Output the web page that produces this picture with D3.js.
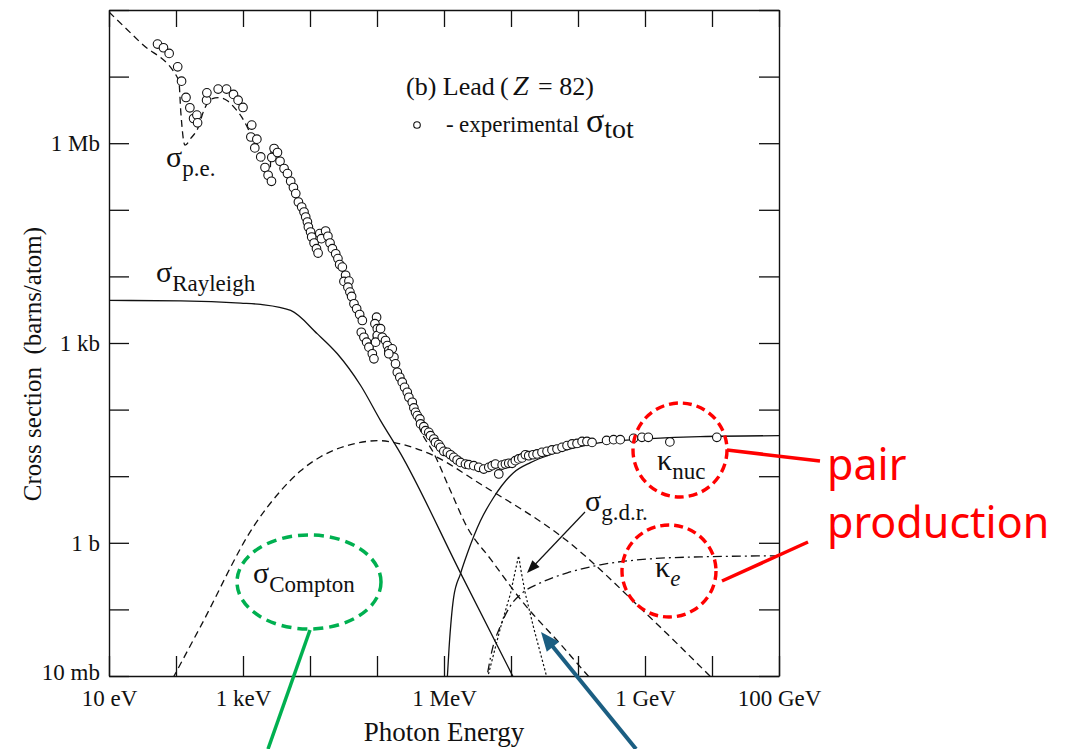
<!DOCTYPE html>
<html>
<head>
<meta charset="utf-8">
<script src="https://cdn.jsdelivr.net/npm/d3@7"></script>
<style>
  body { margin: 0; background: #fff; }
  svg text { font-family: "Liberation Serif", "Times New Roman", serif; fill: #111; }
</style>
</head>
<body>
<svg id="chart" width="1081" height="749"></svg>
<script>
// photon energy in eV, cross section in barns/atom (lead)
const xTicks = [1e1, 1e2, 1e3, 1e4, 1e5, 1e6, 1e7, 1e8, 1e9, 1e10, 1e11]
const yTicks = [1e-2, 1e-1, 1e0, 1e1, 1e2, 1e3, 1e4, 1e5, 1e6, 1e7, 1e8]
const xLabelValues = [1e1, 1e3, 1e6, 1e9, 1e11]
const xLabelText = ['10 eV', '1 keV', '1 MeV', '1 GeV', '100 GeV']
const yLabelValues = [1e-2, 1e0, 1e3, 1e6]
const yLabelText = ['10 mb', '1 b', '1 kb', '1 Mb']

const experimental = [
  [53, 3.08e7], [65, 2.71e7], [79, 2.23e7], [106, 1.40e7], [121, 8.55e6], [141, 4.86e6],
  [161, 3.40e6], [183, 2.35e6], [205, 2.64e6], [210, 2.02e6], [286, 4.43e6], [289, 5.70e6],
  [426, 6.49e6], [568, 6.49e6], [721, 5.40e6], [845, 4.43e6], [1000, 3.44e6], [1350, 1.87e6],
  [1310, 1.24e6], [1610, 1.15e6], [1500, 8.49e5], [1840, 6.22e5], [2130, 4.31e5], [2370, 3.30e5],
  [2660, 2.68e5], [2910, 8.32e5], [2690, 6.10e5], [3270, 7.24e5], [3570, 5.36e5], [4100, 4.17e5],
  [4610, 3.50e5], [5150, 2.68e5], [5660, 2.16e5], [6130, 1.75e5], [6710, 1.31e5], [7520, 1.10e5],
  [8140, 9.27e4], [8630, 7.80e4], [9150, 6.56e4], [9460, 5.51e4], [1.02e4, 4.64e4], [1.06e4, 3.90e4],
  [1.15e4, 3.17e4], [1.25e4, 2.61e4], [1.32e4, 2.24e4], [1.40e4, 4.39e4], [1.48e4, 3.69e4],
  [1.71e4, 4.80e4], [1.85e4, 4.00e4], [1.99e4, 3.17e4], [2.16e4, 2.61e4], [2.42e4, 2.19e4],
  [2.61e4, 1.85e4], [2.77e4, 1.51e4], [3.04e4, 1.38e4], [3.40e4, 1.04e4], [3.21e4, 8.41e3],
  [3.81e4, 8.50e3], [3.68e4, 6.90e3], [3.94e4, 5.81e3], [4.18e4, 5.00e3], [4.53e4, 3.88e3],
  [4.97e4, 3.27e3], [5.51e4, 2.68e3], [6.04e4, 2.18e3], [5.83e4, 1.45e3], [6.38e4, 1.22e3],
  [7.00e4, 1.03e3], [7.57e4, 865], [8.51e4, 689], [9.00e4, 578], [9.86e4, 2.44e3], [9.31e4, 1.95e3],
  [1.01e5, 1.64e3], [1.01e5, 1.30e3], [9.53e4, 1.03e3], [1.13e5, 1.64e3], [1.20e5, 1.22e3],
  [1.34e5, 1.09e3], [1.43e5, 917], [1.50e5, 771], [1.69e5, 818], [1.79e5, 611], [1.50e5, 689],
  [1.89e5, 486], [2.01e5, 364], [2.19e5, 306], [2.38e5, 258], [2.58e5, 216], [2.83e5, 182],
  [2.99e5, 153], [3.36e5, 129], [3.55e5, 106], [3.76e5, 91], [3.99e5, 81.3], [4.36e5, 72.4],
  [4.47e5, 60.9], [5.00e5, 55.5], [5.30e5, 48.3], [5.93e5, 45.6], [6.29e5, 40.6], [7.05e5, 36.2],
  [7.47e5, 32.2], [8.36e5, 29.8], [8.87e5, 27.1], [9.93e5, 23.6], [1.12e6, 22.8], [1.25e6, 21.0],
  [1.40e6, 19.2], [1.57e6, 17.5], [1.76e6, 16.1], [2.09e6, 15.2], [2.34e6, 14.9], [2.78e6, 14.4],
  [3.30e6, 13.6], [3.92e6, 12.8], [4.66e6, 13.6], [5.23e6, 14.4], [5.86e6, 15.2], [6.57e6, 10.8],
  [7.37e6, 14.7], [8.26e6, 15.2], [9.25e6, 15.6], [1.04e7, 15.6], [1.16e7, 17.1], [1.30e7, 18.2],
  [1.46e7, 18.8], [1.64e7, 21.0], [1.84e7, 20.3], [2.13e7, 21.0], [2.45e7, 21.6], [2.90e7, 22.8],
  [3.45e7, 23.6], [4.09e7, 24.8], [4.86e7, 25.6], [5.78e7, 27.1], [6.86e7, 28.8], [8.15e7, 30.5],
  [9.67e7, 31.1], [1.15e8, 33.3], [1.36e8, 33.3], [1.62e8, 32.2], [2.67e8, 34.5], [3.40e8, 35.4],
  [4.27e8, 35.4], [6.75e8, 37.0], [9.00e8, 38.3], [1.12e9, 38.3], [2.35e9, 32.7], [1.18e10, 38.3]
]

const photoelectric = [
  [10, 9.33e7], [30, 3.19e7], [110, 8.85e6], [118, 2.92e6], [136, 9.33e5], [167, 1.19e6],
  [212, 1.68e6], [261, 3.13e6], [331, 4.59e6], [436, 4.83e6], [593, 4.29e6], [755, 3.36e6],
  [959, 2.46e6], [1180, 1.68e6], [1610, 8.41e5], [2190, 4.21e5], [2510, 3.08e5], [2640, 7.85e5],
  [3660, 5.55e5], [5150, 2.78e5], [7260, 1.17e5], [1.02e4, 4.59e4], [1.30e4, 2.38e4],
  [1.37e4, 4.29e4], [2.03e4, 3.03e4], [2.87e4, 1.46e4], [4.05e4, 5.74e3], [5.70e4, 2.03e3],
  [8.59e4, 627], [9.06e4, 2.33e3], [1.13e5, 1.49e3], [1.60e5, 695], [2.25e5, 292], [3.17e5, 115],
  [4.62e5, 45.1], [6.98e5, 22.5], [1.25e6, 6.05], [2.24e6, 1.68], [4.93e6, 0.574], [1.53e7, 0.125],
  [5.45e7, 0.0303], [1.52e8, 0.0093], [2.15e8, 0.0064]
]

const rayleigh = [
  [10, 4.36e3], [118, 4.28e3], [927, 3.97e3], [1840, 3.79e3], [5150, 3.08e3], [1.29e4, 1.37e3],
  [2.56e4, 689], [5.70e4, 230], [1.13e5, 68.4], [2.25e5, 21.8], [1.76e6, 0.354], [1.10e7, 0.0093]
]

const compton = [
  [90, 0.0093], [235, 0.0565], [1460, 1.80], [3660, 6.05], [7260, 12.1], [1.44e4, 19.6],
  [4.05e4, 29.8], [1.06e5, 34.2], [2.25e5, 30.5], [7.05e5, 20.3], [3.50e6, 7.63], [6.86e7, 1.07],
  [1.20e9, 0.0754], [1.0e10, 0.0093]
]

const kappaNuc = [
  [1.09e6, 0.0059], [1.19e6, 0.0264], [1.39e6, 0.149], [1.76e6, 0.342], [2.22e6, 0.684],
  [3.50e6, 2.14], [5.47e6, 4.75], [1.09e7, 11.3], [1.95e7, 16.0], [3.86e7, 21.0], [9.12e7, 26.8],
  [2.15e8, 31.9], [1.20e9, 36.6], [6.65e9, 39.3], [1e11, 40.6]
]

const kappaE = [
  [4.02e6, 0.0059], [5.28e6, 0.0255], [6.95e6, 0.0565], [9.80e6, 0.113], [1.48e7, 0.177],
  [2.74e7, 0.250], [6.92e7, 0.354], [2.15e8, 0.467], [1.20e9, 0.574], [6.65e9, 0.615], [1e11, 0.638]
]

const gdr = [
  [4.02e6, 0.0059], [4.45e6, 0.0093], [6.95e6, 0.0527], [9.80e6, 0.171], [1.16e7, 0.379],
  [1.30e7, 0.638], [1.43e7, 0.354], [1.64e7, 0.171], [2.18e7, 0.0527], [3.45e7, 0.0093], [3.73e7, 0.0059]
]

let svg = d3.select('#chart')

let x = d3.scaleLog().domain([1e1, 1e11]).range([109, 779])
let y = d3.scaleLog().domain([1e-2, 1e8]).range([676, 10])

let decade = v => Math.round(Math.log10(v))
let xName = d => {
  let i = xLabelValues.findIndex(v => decade(v) === decade(d))
  return i < 0 ? '' : xLabelText[i]
}
let yName = d => {
  let i = yLabelValues.findIndex(v => decade(v) === decade(d))
  return i < 0 ? '' : yLabelText[i]
}

let styleAxis = g => {
  g.select('.domain').attr('stroke', '#111').attr('stroke-width', 1.4)
  g.selectAll('.tick line').attr('stroke', '#111').attr('stroke-width', 1.3)
  g.selectAll('.tick text').style('font-size', '23px')
}

svg.append('g')
  .attr('transform', 'translate(0,676)')
  .call(d3.axisBottom(x).tickValues(xTicks).tickSizeInner(-20).tickSizeOuter(0).tickPadding(14).tickFormat(xName))
  .call(styleAxis)

svg.append('g')
  .attr('transform', 'translate(0,10)')
  .call(d3.axisTop(x).tickValues(xTicks).tickSizeInner(-17).tickSizeOuter(0).tickFormat(''))
  .call(styleAxis)

let leftAxis = svg.append('g')
  .attr('transform', 'translate(109,0)')
  .call(d3.axisLeft(y).tickValues(yTicks).tickSizeInner(-20).tickSizeOuter(0).tickPadding(9).tickFormat(yName))
  .call(styleAxis)

// lowest label sits a little above the frame corner
leftAxis.selectAll('.tick text')
  .filter(d => decade(d) === -2)
  .attr('dy', '0.15em')

svg.append('g')
  .attr('transform', 'translate(779,0)')
  .call(d3.axisRight(y).tickValues(yTicks).tickSizeInner(-20).tickSizeOuter(0).tickFormat(''))
  .call(styleAxis)

// axis titles
svg.append('text')
  .attr('x', 444).attr('y', 741)
  .attr('text-anchor', 'middle')
  .style('font-size', '27px')
  .text('Photon Energy')

svg.append('text')
  .attr('transform', 'translate(41,364) rotate(-90)')
  .attr('text-anchor', 'middle')
  .style('font-size', '25px')
  .style('white-space', 'pre')
  .text('Cross section  (barns/atom)')

// curves
svg.append('clipPath').attr('id', 'plot-clip')
  .append('rect').attr('x', 109).attr('y', 10).attr('width', 670).attr('height', 666)

let plot = svg.append('g').attr('clip-path', 'url(#plot-clip)')

let smooth = d3.line().x(d => x(d[0])).y(d => y(d[1])).curve(d3.curveMonotoneX)
let straight = d3.line().x(d => x(d[0])).y(d => y(d[1]))

let curves = [
  { data: rayleigh, gen: smooth, dash: null, width: 1.3 },
  { data: compton, gen: smooth, dash: '7,4.5', width: 1.3 },
  { data: photoelectric, gen: smooth, dash: '7,4.5', width: 1.3 },
  { data: kappaNuc, gen: smooth, dash: null, width: 1.3 },
  { data: kappaE, gen: smooth, dash: '9,4,2,4', width: 1.3 },
  { data: gdr, gen: straight, dash: '2.2,2.2', width: 1.2 }
]

curves.forEach(c => {
  plot.append('path')
    .attr('d', c.gen(c.data))
    .attr('fill', 'none')
    .attr('stroke', '#111')
    .attr('stroke-width', c.width)
    .attr('stroke-dasharray', c.dash)
})

plot.selectAll('circle.exp')
  .data(experimental)
  .enter()
  .append('circle')
  .attr('class', 'exp')
  .attr('cx', d => x(d[0]))
  .attr('cy', d => y(d[1]))
  .attr('r', 4.3)
  .attr('fill', '#fff')
  .attr('stroke', '#111')
  .attr('stroke-width', 1.1)

// curve labels
let curveLabel = (px, py, main, sub, italicSub) => {
  let t = svg.append('text').attr('x', px).attr('y', py)
  t.append('tspan').text(main).style('font-size', '30px')
  t.append('tspan').text(sub).attr('dy', 9)
    .style('font-size', '23px')
    .style('font-style', italicSub ? 'italic' : 'normal')
}

curveLabel(166, 167, 'σ', 'p.e.')
curveLabel(156, 282, 'σ', 'Rayleigh')
curveLabel(253, 583, 'σ', 'Compton')
curveLabel(585, 511, 'σ', 'g.d.r.')
curveLabel(657, 470, 'κ', 'nuc')
curveLabel(655, 577, 'κ', 'e', true)

// legend
let title = svg.append('text').attr('y', 95).style('font-size', '26px')
title.append('tspan').attr('x', 406).text('(b) Lead')
title.append('tspan').attr('x', 500).text('(')
title.append('tspan').attr('x', 513).style('font-style', 'italic').style('font-size', '28px').text('Z')
title.append('tspan').attr('x', 538).style('font-size', '26px').text('= 82)')

svg.append('circle')
  .attr('cx', 417).attr('cy', 125).attr('r', 3.3)
  .attr('fill', '#fff').attr('stroke', '#111').attr('stroke-width', 1.1)

let legendLine = svg.append('text').attr('y', 132).style('font-size', '23px')
legendLine.append('tspan').attr('x', 446).text('-')
legendLine.append('tspan').attr('x', 459).text('experimental')
legendLine.append('tspan').attr('x', 586).style('font-size', '34px').text('σ')
legendLine.append('tspan').attr('dy', 6).style('font-size', '28px').text('tot')

// pointer arrows
let arrow = (x1, y1, x2, y2, len, half, color, width) => {
  let dx = x2 - x1, dy = y2 - y1
  let L = Math.sqrt(dx * dx + dy * dy)
  let ux = dx / L, uy = dy / L
  let bx = x2 - ux * len, by = y2 - uy * len
  svg.append('line')
    .attr('x1', x1).attr('y1', y1).attr('x2', bx + ux * 2).attr('y2', by + uy * 2)
    .attr('stroke', color).attr('stroke-width', width)
  svg.append('polygon')
    .attr('points', [[x2, y2], [bx - uy * half, by + ux * half], [bx + uy * half, by - ux * half]].join(' '))
    .attr('fill', color)
}

arrow(585, 512, 527, 573, 13, 5, '#111', 1.2)

// highlight annotations
let red = '#ff0000'
svg.append('ellipse')
  .attr('cx', 680).attr('cy', 450).attr('rx', 47).attr('ry', 47)
  .attr('fill', 'none').attr('stroke', red).attr('stroke-width', 3.4).attr('stroke-dasharray', '9,5')
svg.append('ellipse')
  .attr('cx', 669).attr('cy', 571).attr('rx', 47).attr('ry', 46)
  .attr('fill', 'none').attr('stroke', red).attr('stroke-width', 3.4).attr('stroke-dasharray', '9,5')
svg.append('line')
  .attr('x1', 727).attr('y1', 450).attr('x2', 820).attr('y2', 461)
  .attr('stroke', red).attr('stroke-width', 3.5)
svg.append('line')
  .attr('x1', 722).attr('y1', 581).attr('x2', 808).attr('y2', 542)
  .attr('stroke', red).attr('stroke-width', 3.5)

let pair = svg.append('text')
  .style('font-family', '"Noto Sans", sans-serif')
  .style('font-size', '43px')
  .style('fill', red)
pair.append('tspan').attr('x', 827).attr('y', 480).text('pair')
pair.append('tspan').attr('x', 827).attr('y', 538).text('production')

let green = '#00b050'
svg.append('ellipse')
  .attr('cx', 309).attr('cy', 582).attr('rx', 72).attr('ry', 47)
  .attr('fill', 'none').attr('stroke', green).attr('stroke-width', 3.5).attr('stroke-dasharray', '10,6')
svg.append('line')
  .attr('x1', 310).attr('y1', 630).attr('x2', 268).attr('y2', 749)
  .attr('stroke', green).attr('stroke-width', 3.5)

arrow(636, 749, 541, 632, 19, 8, '#1b5e82', 4)
</script>
</body>
</html>
